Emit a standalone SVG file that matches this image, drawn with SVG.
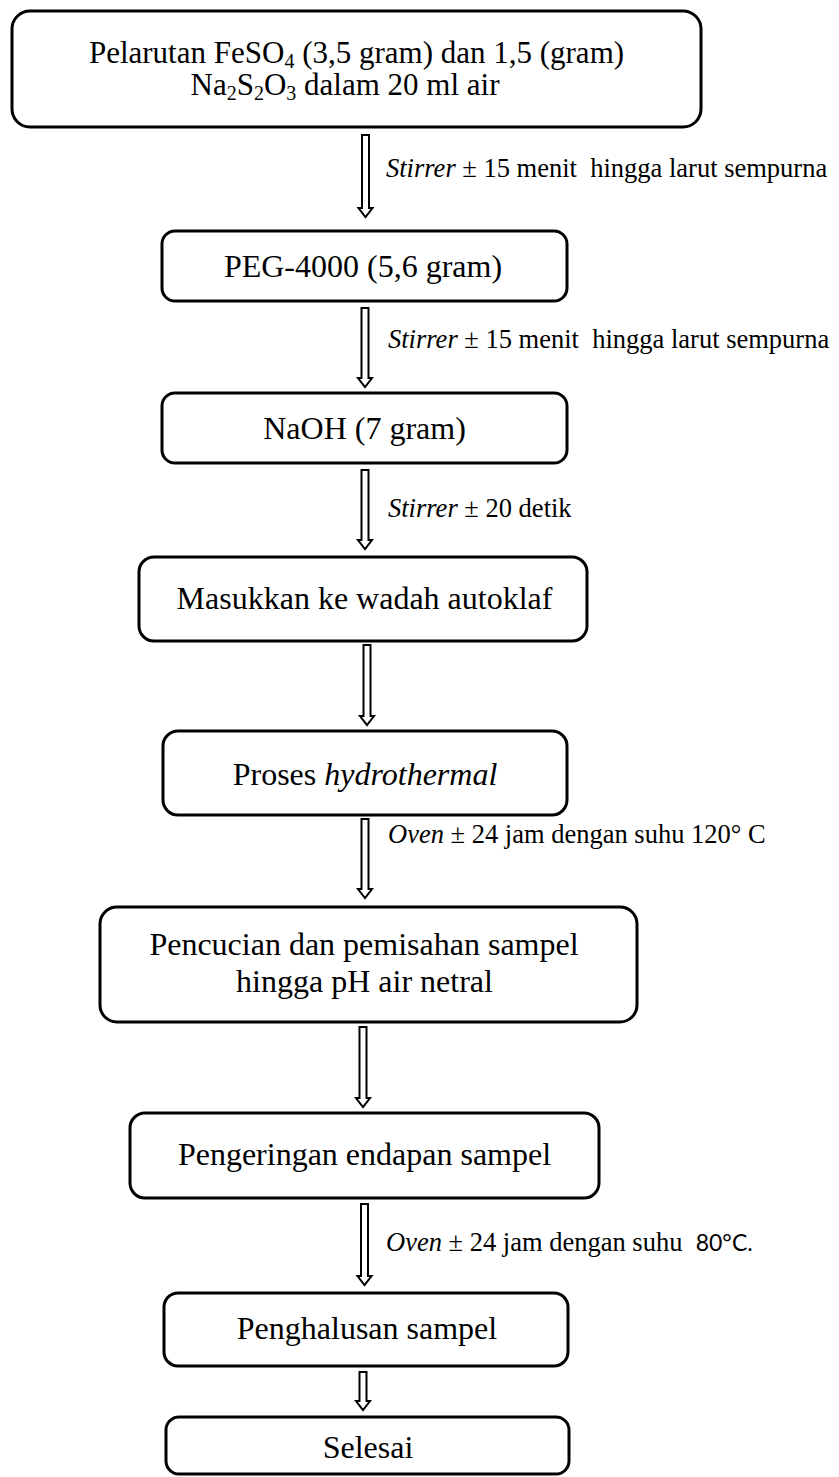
<svg xmlns="http://www.w3.org/2000/svg" width="839" height="1477" viewBox="0 0 839 1477">
<style>
.box{fill:#fff;stroke:#000;stroke-width:3}
.t{font-family:"Liberation Serif","Times New Roman",serif;font-size:32px;fill:#000;text-anchor:middle}
.lbl{font-family:"Liberation Serif","Times New Roman",serif;font-size:26.5px;fill:#000;white-space:pre}
.it{font-style:italic}
.sans{font-family:Lato,"Liberation Sans",sans-serif;font-size:23px}
.arr{fill:#fff;stroke:#000;stroke-width:2;stroke-linejoin:miter}
</style>
<rect width="839" height="1477" fill="#fff"/>
<g id="connectors">
<path class="arr" d="M362 135 L369 135 L369 208 L372.5 208 L365.5 217 L358.5 208 L362 208 Z"/>
<path class="arr" d="M361.5 308 L368.5 308 L368.5 378 L372 378 L365 387 L358 378 L361.5 378 Z"/>
<path class="arr" d="M361.5 470 L368.5 470 L368.5 540 L372 540 L365 549 L358 540 L361.5 540 Z"/>
<path class="arr" d="M363.5 645 L370.5 645 L370.5 716 L374 716 L367 725 L360 716 L363.5 716 Z"/>
<path class="arr" d="M361.5 819 L368.5 819 L368.5 889 L372 889 L365 898 L358 889 L361.5 889 Z"/>
<path class="arr" d="M359.5 1027 L366.5 1027 L366.5 1098 L370 1098 L363 1107 L356 1098 L359.5 1098 Z"/>
<path class="arr" d="M361 1204 L368 1204 L368 1276 L371.5 1276 L364.5 1285 L357.5 1276 L361 1276 Z"/>
<path class="arr" d="M359.5 1372 L366.5 1372 L366.5 1401 L370 1401 L363 1410 L356 1401 L359.5 1401 Z"/>
<text class="lbl" x="386" y="177"><tspan class="it">Stirrer</tspan> ± 15 menit  hingga larut sempurna</text>
<text class="lbl" x="388" y="348"><tspan class="it">Stirrer</tspan> ± 15 menit  hingga larut sempurna</text>
<text class="lbl" x="388" y="517"><tspan class="it">Stirrer</tspan> ± 20 detik</text>
<text class="lbl" x="388" y="843"><tspan class="it">Oven</tspan> ± 24 jam dengan suhu 120° C</text>
<text class="lbl" x="386" y="1251"><tspan class="it">Oven</tspan> ± 24 jam dengan suhu  <tspan class="sans">80°C.</tspan></text>
</g>
<g id="n1">
<rect class="box" x="12" y="11" width="689" height="116" rx="18"/>
<text class="t" x="356.5" y="63" style="font-size:31px">Pelarutan FeSO<tspan font-size="20" dy="5">4</tspan><tspan dy="-5"> (3,5 gram) dan 1,5 (gram)</tspan></text>
<text class="t" x="345" y="95" style="font-size:31px">Na<tspan font-size="20" dy="5">2</tspan><tspan dy="-5">S</tspan><tspan font-size="20" dy="5">2</tspan><tspan dy="-5">O</tspan><tspan font-size="20" dy="5">3</tspan><tspan dy="-5"> dalam 20 ml air</tspan></text>
</g>
<g id="n2">
<rect class="box" x="162" y="231" width="405" height="70" rx="13"/>
<text class="t" x="363" y="277">PEG-4000 (5,6 gram)</text>
</g>
<g id="n3">
<rect class="box" x="162" y="393" width="405" height="70" rx="13"/>
<text class="t" x="364.5" y="439">NaOH (7 gram)</text>
</g>
<g id="n4">
<rect class="box" x="139" y="557" width="448" height="84" rx="15"/>
<text class="t" x="364.5" y="609">Masukkan ke wadah autoklaf</text>
</g>
<g id="n5">
<rect class="box" x="163" y="731" width="404" height="84" rx="15"/>
<text class="t" x="365" y="785">Proses <tspan class="it">hydrothermal</tspan></text>
</g>
<g id="n6">
<rect class="box" x="100" y="907" width="537" height="115" rx="17"/>
<text class="t" x="364" y="955">Pencucian dan pemisahan sampel</text>
<text class="t" x="364.5" y="992">hingga pH air netral</text>
</g>
<g id="n7">
<rect class="box" x="130" y="1113" width="469" height="85" rx="15"/>
<text class="t" x="364.5" y="1165">Pengeringan endapan sampel</text>
</g>
<g id="n8">
<rect class="box" x="164" y="1293" width="404" height="73" rx="14"/>
<text class="t" x="367" y="1339">Penghalusan sampel</text>
</g>
<g id="n9">
<rect class="box" x="166" y="1417" width="403" height="57" rx="13"/>
<text class="t" x="368" y="1458">Selesai</text>
</g>
</svg>
